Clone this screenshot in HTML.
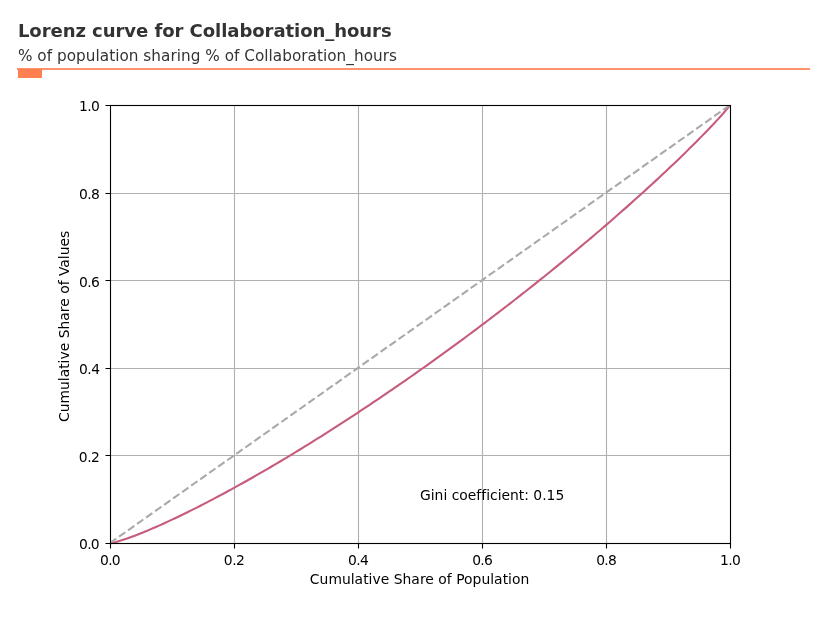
<!DOCTYPE html>
<html lang="en">
<head>
<meta charset="utf-8">
<title>Lorenz curve for Collaboration_hours</title>
<style>
html,body{margin:0;padding:0;background:#fff;overflow:hidden}
svg{display:block}
text{font-family:"DejaVu Sans","Liberation Sans",sans-serif;font-size:13.8889px;fill:#000;text-rendering:auto;font-variant-ligatures:none;white-space:pre}
</style>
</head>
<body>
<svg width="819" height="619" viewBox="0 0 819 619" role="img" aria-label="Lorenz curve for Collaboration_hours">
<rect width="819" height="619" fill="#fff"/>
<!-- header -->
<text style="font-size:18.0556px;font-weight:bold;fill:#333" x="17.92" y="37.00" textLength="373.76" lengthAdjust="spacing">Lorenz curve for Collaboration_hours</text>
<text style="font-size:15.2778px;fill:#333" x="17.96" y="61.00" textLength="379.05" lengthAdjust="spacing">% of population sharing % of Collaboration_hours</text>
<rect x="17" y="68" width="793" height="2" fill="#fe926a"/>
<rect x="18" y="69" width="24" height="9" fill="#fe7f4f"/>
<!-- grid -->
<path d="M234.5 105.5V543.5M358.5 105.5V543.5M482.5 105.5V543.5M606.5 105.5V543.5M110.5 193.5H730.5M110.5 280.5H730.5M110.5 368.5H730.5M110.5 455.5H730.5" fill="none" stroke="#b0b0b0" stroke-width="1.1111"/>
<!-- lorenz curve and line of equality -->
<clipPath id="ax"><rect x="110.0" y="105.0" width="620.0" height="438.0"/></clipPath>
<g clip-path="url(#ax)" fill="none" stroke-width="2.0833">
<path d="M110.00 543.50L113.10 542.75L116.20 541.96L119.30 541.06L122.40 540.08L125.50 539.05L128.60 537.96L131.70 536.83L134.80 535.67L137.90 534.47L141.00 533.24L144.10 531.98L147.20 530.70L150.30 529.39L153.40 528.06L156.50 526.71L159.60 525.34L162.70 523.95L165.80 522.54L168.90 521.11L172.00 519.67L175.10 518.21L178.20 516.73L181.30 515.24L184.40 513.74L187.50 512.21L190.60 510.68L193.70 509.13L196.80 507.57L199.90 505.99L203.00 504.41L206.10 502.81L209.20 501.20L212.30 499.57L215.40 497.94L218.50 496.29L221.60 494.63L224.70 492.96L227.80 491.29L230.90 489.60L234.00 487.89L237.10 486.18L240.20 484.46L243.30 482.73L246.40 480.99L249.50 479.24L252.60 477.48L255.70 475.71L258.80 473.93L261.90 472.14L265.00 470.35L268.10 468.54L271.20 466.73L274.30 464.90L277.40 463.07L280.50 461.23L283.60 459.38L286.70 457.52L289.80 455.65L292.90 453.77L296.00 451.89L299.10 450.00L302.20 448.10L305.30 446.19L308.40 444.27L311.50 442.35L314.60 440.41L317.70 438.47L320.80 436.53L323.90 434.57L327.00 432.60L330.10 430.63L333.20 428.65L336.30 426.67L339.40 424.67L342.50 422.67L345.60 420.66L348.70 418.64L351.80 416.61L354.90 414.58L358.00 412.54L361.10 410.49L364.20 408.44L367.30 406.37L370.40 404.30L373.50 402.23L376.60 400.14L379.70 398.05L382.80 395.95L385.90 393.84L389.00 391.73L392.10 389.61L395.20 387.48L398.30 385.34L401.40 383.20L404.50 381.05L407.60 378.89L410.70 376.73L413.80 374.56L416.90 372.38L420.00 370.19L423.10 368.00L426.20 365.80L429.30 363.59L432.40 361.37L435.50 359.15L438.60 356.92L441.70 354.68L444.80 352.44L447.90 350.19L451.00 347.93L454.10 345.66L457.20 343.39L460.30 341.11L463.40 338.82L466.50 336.53L469.60 334.22L472.70 331.91L475.80 329.60L478.90 327.27L482.00 324.94L485.10 322.60L488.20 320.25L491.30 317.90L494.40 315.54L497.50 313.17L500.60 310.79L503.70 308.41L506.80 306.01L509.90 303.61L513.00 301.20L516.10 298.79L519.20 296.37L522.30 293.93L525.40 291.49L528.50 289.05L531.60 286.59L534.70 284.13L537.80 281.66L540.90 279.18L544.00 276.69L547.10 274.19L550.20 271.69L553.30 269.18L556.40 266.66L559.50 264.13L562.60 261.59L565.70 259.04L568.80 256.49L571.90 253.92L575.00 251.35L578.10 248.76L581.20 246.17L584.30 243.57L587.40 240.96L590.50 238.34L593.60 235.71L596.70 233.07L599.80 230.42L602.90 227.76L606.00 225.09L609.10 222.42L612.20 219.73L615.30 217.02L618.40 214.31L621.50 211.59L624.60 208.86L627.70 206.11L630.80 203.36L633.90 200.59L637.00 197.81L640.10 195.01L643.20 192.21L646.30 189.39L649.40 186.56L652.50 183.71L655.60 180.86L658.70 177.98L661.80 175.09L664.90 172.19L668.00 169.27L671.10 166.33L674.20 163.38L677.30 160.41L680.40 157.42L683.50 154.41L686.60 151.38L689.70 148.33L692.80 145.26L695.90 142.16L699.00 139.04L702.10 135.89L705.20 132.71L708.30 129.49L711.40 126.24L714.50 122.95L717.60 119.60L720.70 116.20L723.80 112.72L726.90 109.13L730.00 105.50" stroke="#c75b7a" stroke-linecap="square" stroke-linejoin="round"/>
<path d="M110.00 543.05L730.00 105.05" stroke="#a9a9a9" stroke-dasharray="7.7083 3.3333"/>
</g>
<!-- ticks and spines -->
<path d="M110.5 543.5v5M234.5 543.5v5M358.5 543.5v5M482.5 543.5v5M606.5 543.5v5M730.5 543.5v5M110.5 543.5h-5M110.5 455.5h-5M110.5 368.5h-5M110.5 280.5h-5M110.5 193.5h-5M110.5 105.5h-5" fill="none" stroke="#000" stroke-width="1.1111"/>
<rect x="110.5" y="105.5" width="620.0" height="438.0" fill="none" stroke="#000" stroke-width="1.1111"/>
<!-- tick labels -->
<text x="100.09" y="565.00" textLength="20.61" lengthAdjust="spacing">0.0</text>
<text x="223.84" y="565.00" textLength="21.11" lengthAdjust="spacing">0.2</text>
<text x="347.95" y="565.00" textLength="21.00" lengthAdjust="spacing">0.4</text>
<text x="472.13" y="565.00" textLength="20.63" lengthAdjust="spacing">0.6</text>
<text x="596.13" y="565.00" textLength="20.63" lengthAdjust="spacing">0.8</text>
<text x="719.93" y="565.00" textLength="20.82" lengthAdjust="spacing">1.0</text>
<text x="79.05" y="549.00" textLength="20.61" lengthAdjust="spacing">0.0</text>
<text x="78.79" y="462.00" textLength="21.11" lengthAdjust="spacing">0.2</text>
<text x="78.91" y="374.00" textLength="21.10" lengthAdjust="spacing">0.4</text>
<text x="79.09" y="287.00" textLength="20.63" lengthAdjust="spacing">0.6</text>
<text x="79.09" y="199.00" textLength="20.70" lengthAdjust="spacing">0.8</text>
<text x="78.97" y="111.00" textLength="20.76" lengthAdjust="spacing">1.0</text>
<!-- axis labels and annotation -->
<text x="309.86" y="584.00" textLength="219.42" lengthAdjust="spacing">Cumulative Share of Population</text>
<text transform="translate(69.00 422.02) rotate(-90)" textLength="191.33" lengthAdjust="spacing">Cumulative Share of Values</text>
<text x="419.99" y="500.00" textLength="144.28" lengthAdjust="spacing">Gini coefficient: 0.15</text>
</svg>
</body>
</html>
